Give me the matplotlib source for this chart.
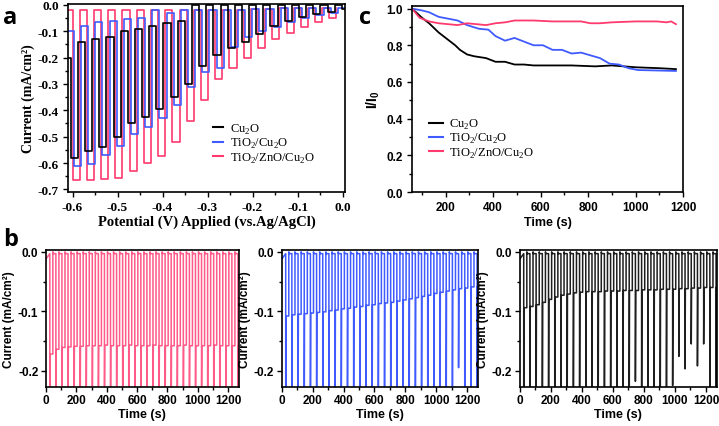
import matplotlib
matplotlib.use('Agg')
import matplotlib.pyplot as plt
import numpy as np
from matplotlib.ticker import MultipleLocator

plt.rcParams['mathtext.fontset'] = 'custom'
plt.rcParams['mathtext.rm'] = 'Liberation Serif'
plt.rcParams['mathtext.bf'] = 'Liberation Sans:bold'

# ---------------- panel a: chopped LSV (one value per light pulse) -------------
a_period = 0.0317          # chopping period in V
a_start = {'red': -0.600, 'blue': -0.597, 'black': -0.604}
cu2o_light = [-0.58, -0.555, -0.54, -0.50, -0.45, -0.425, -0.395, -0.35, -0.30, -0.23,
              -0.19, -0.165, -0.14, -0.11, -0.08, -0.06, -0.045, -0.035, -0.025, -0.015]
cu2o_dark = [-0.20, -0.14, -0.13, -0.12, -0.10, -0.09, -0.08, -0.07, -0.06, -0.0,
             -0.0, -0.0, -0.0, -0.0, -0.0, -0.0, -0.0, -0.0, -0.0, -0.0]
tio2_light = [-0.61, -0.605, -0.57, -0.535, -0.49, -0.465, -0.43, -0.38, -0.31, -0.255,
              -0.24, -0.16, -0.12, -0.10, -0.085, -0.065, -0.05, -0.04, -0.03, -0.02]
tio2_dark = [-0.10, -0.08, -0.065, -0.06, -0.055, -0.05, -0.02, -0.03, -0.02, -0.02,
             -0.02, -0.02, -0.02, -0.015, -0.015, -0.01, -0.01, -0.01, -0.01, -0.01]
zno_light = [-0.665, -0.665, -0.66, -0.655, -0.63, -0.60, -0.575, -0.52, -0.44, -0.36,
             -0.28, -0.24, -0.20, -0.165, -0.13, -0.105, -0.085, -0.065, -0.05]
zno_dark = [-0.02, -0.02, -0.02, -0.02, -0.02, -0.02, -0.02, -0.02, -0.02, -0.02,
            -0.02, -0.02, -0.02, -0.015, -0.015, -0.01, -0.01, -0.01, -0.01]

# ---------------- panel b: chopped chronoamperometry -------------------------
b_first_on = 25            # s
b_period = 40              # s (20 s on / 20 s off)
red_plateau = [-0.172, -0.164, -0.161, -0.160, -0.159, -0.159, -0.158, -0.158, -0.158, -0.157,
               -0.158, -0.158, -0.158, -0.157, -0.158, -0.158, -0.158, -0.157, -0.158, -0.158,
               -0.158, -0.158, -0.157, -0.158, -0.158, -0.158, -0.158, -0.157, -0.158, -0.158,
               -0.158, -0.158]
red_spike = [-0.3] * 32
blue_plateau = [-0.108, -0.106, -0.105, -0.104, -0.103, -0.102, -0.101, -0.099, -0.098, -0.096,
                -0.095, -0.093, -0.092, -0.090, -0.089, -0.087, -0.086, -0.085, -0.083, -0.081,
                -0.079, -0.077, -0.075, -0.073, -0.070, -0.068, -0.066, -0.064, -0.062, -0.061,
                -0.059, -0.058]
blue_spike = [-0.3] * 28 + [-0.195] + [-0.3] * 3
black_plateau = [-0.094, -0.092, -0.089, -0.085, -0.080, -0.076, -0.073, -0.071, -0.069, -0.068,
                 -0.067, -0.067, -0.067, -0.066, -0.066, -0.066, -0.065, -0.065, -0.065, -0.064,
                 -0.064, -0.064, -0.063, -0.063, -0.063, -0.062, -0.062, -0.061, -0.061, -0.060,
                 -0.060, -0.060]
black_spike = [-0.3] * 18 + [-0.218] + [-0.3] * 5 + [-0.225, -0.176, -0.197, -0.155, -0.192, -0.155, -0.3, -0.3]
b_dark = -0.003

# ---------------- panel c: stability ----------------------------------------
t_cu2o = [58, 100, 130, 170, 200, 240, 260, 290, 320, 370, 410, 450, 490, 530, 570, 650, 730, 830, 900, 1000, 1100, 1170]
r_cu2o = [1.0, 0.95, 0.92, 0.87, 0.84, 0.80, 0.775, 0.75, 0.74, 0.73, 0.71, 0.71, 0.695, 0.695, 0.69, 0.69, 0.69, 0.685, 0.69, 0.68, 0.675, 0.67]
t_tio2 = [58, 100, 130, 170, 210, 250, 290, 340, 380, 410, 450, 490, 530, 570, 610, 650, 690, 730, 770, 810, 850, 890, 930, 970, 1010, 1170]
r_tio2 = [1.0, 0.99, 0.98, 0.955, 0.945, 0.935, 0.91, 0.89, 0.885, 0.85, 0.825, 0.84, 0.82, 0.80, 0.80, 0.775, 0.775, 0.755, 0.76, 0.745, 0.73, 0.70, 0.695, 0.675, 0.665, 0.66]
t_zno = [58, 90, 130, 170, 210, 250, 290, 330, 370, 410, 450, 490, 570, 650, 770, 810, 850, 900, 1000, 1090, 1130, 1150, 1170]
r_zno = [1.0, 0.95, 0.93, 0.92, 0.915, 0.91, 0.92, 0.915, 0.91, 0.92, 0.925, 0.935, 0.935, 0.93, 0.93, 0.92, 0.92, 0.925, 0.93, 0.93, 0.925, 0.93, 0.915]

legend_labels = ['Cu$_2$O', 'TiO$_2$/Cu$_2$O', 'TiO$_2$/ZnO/Cu$_2$O']

RED = '#ff3a6e'
PINK = '#ff5a88'
BLUE = '#3f5bff'
SERIF = 'Liberation Serif'
SANS = 'Liberation Sans'


def chopped_lsv(start, light, dark):
    h = a_period / 2
    xs, ys = [], []
    for k in range(len(light)):
        p = start + k * a_period
        xs += [p - h, p, p, p + h, p + h]
        ys += [dark[k], dark[k], light[k], light[k], dark[min(k + 1, len(dark) - 1)]]
    return xs, ys


def chopped_ca(plateau, spike):
    xs, ys = [0, b_first_on], [-0.012, b_dark]
    for k in range(len(plateau)):
        ton = b_first_on + k * b_period
        toff = ton + b_period / 2
        xs += [ton, ton, ton + 2, toff, toff, toff + 3, ton + b_period]
        ys += [b_dark, spike[k], plateau[k], plateau[k], 0.0, b_dark, b_dark]
    return xs, ys


def style_ticks(ax, family, size, pad=3):
    ax.tick_params(which='both', direction='out', width=1.0, pad=pad)
    ax.tick_params(which='major', length=3.5, labelsize=size)
    ax.tick_params(which='minor', length=2)
    for t in ax.get_xticklabels() + ax.get_yticklabels():
        t.set_fontfamily(family)
        t.set_fontweight('bold')
    for s in ax.spines.values():
        s.set_linewidth(1.2)


fig = plt.figure(figsize=(7.19, 4.27), dpi=100)

# panel a
ax = fig.add_axes([0.0946, 0.548, 0.385, 0.440])
for start, li, da, c in [(a_start['red'], zno_light, zno_dark, RED),
                         (a_start['blue'], tio2_light, tio2_dark, BLUE),
                         (a_start['black'], cu2o_light, cu2o_dark, 'black')]:
    x, y = chopped_lsv(start, li, da)
    ax.plot(x, y, color=c, lw=1.2)
ax.set_xlim(-0.61, 0.005)
ax.set_ylim(-0.71, 0.003)
ax.xaxis.set_major_locator(MultipleLocator(0.1))
ax.xaxis.set_minor_locator(MultipleLocator(0.05))
ax.yaxis.set_major_locator(MultipleLocator(0.1))
ax.yaxis.set_minor_locator(MultipleLocator(0.05))
ax.xaxis.set_major_formatter(lambda v, p: f'{v:.1f}'.replace('-0.0', '0.0'))
ax.yaxis.set_major_formatter(lambda v, p: f'{v:.1f}'.replace('-0.0', '0.0'))
style_ticks(ax, SERIF, 9.5)
ax.set_xlabel('Potential (V) Applied (vs.Ag/AgCl)', fontfamily=SERIF, fontweight='bold', fontsize=10.5, labelpad=1)
ax.set_ylabel('Current (mA/cm²)', fontfamily=SERIF, fontweight='bold', fontsize=10, labelpad=2)
ha = [plt.Line2D([], [], color='black', lw=1.5), plt.Line2D([], [], color=BLUE, lw=1.5),
      plt.Line2D([], [], color=RED, lw=1.5)]
ax.legend(ha, legend_labels, loc='upper left',
          bbox_to_anchor=(0.505, 0.40), frameon=False, handlelength=0.8, handletextpad=0.6,
          labelspacing=0.02, borderaxespad=0, prop={'family': SERIF, 'size': 9})

# panel c
axc = fig.add_axes([0.573, 0.548, 0.377, 0.436])
axc.plot(t_cu2o, r_cu2o, color='black', lw=1.3)
axc.plot(t_tio2, r_tio2, color=BLUE, lw=1.3)
axc.plot(t_zno, r_zno, color=RED, lw=1.3)
axc.set_xlim(58, 1200)
axc.set_ylim(0, 1.015)
axc.xaxis.set_major_locator(MultipleLocator(200))
axc.xaxis.set_minor_locator(MultipleLocator(100))
axc.yaxis.set_major_locator(MultipleLocator(0.2))
axc.yaxis.set_minor_locator(MultipleLocator(0.1))
axc.yaxis.set_major_formatter(lambda v, p: f'{v:.1f}')
style_ticks(axc, SANS, 8.5)
axc.set_xlabel('Time (s)', fontfamily=SANS, fontweight='bold', fontsize=9, labelpad=2)
axc.set_ylabel(r'$\mathbf{I/I_0}$', fontsize=10, labelpad=3)
axc.legend(ha, legend_labels, loc='upper left',
           bbox_to_anchor=(0.045, 0.43), frameon=False, handlelength=1.1, handletextpad=0.5,
           labelspacing=0.02, borderaxespad=0, prop={'family': SERIF, 'size': 9})

# panel b
b_rects = [[0.064, 0.092, 0.268, 0.320], [0.392, 0.092, 0.2726, 0.320], [0.723, 0.092, 0.274, 0.320]]
b_series = [(red_plateau, red_spike, PINK), (blue_plateau, blue_spike, BLUE),
            (black_plateau, black_spike, '#1e1e1e')]
for rect, (pl, sp, c) in zip(b_rects, b_series):
    axb = fig.add_axes(rect)
    x, y = chopped_ca(pl, sp)
    axb.plot(x, y, color=c, lw=1.1)
    axb.set_xlim(0, 1270)
    axb.set_ylim(-0.227, 0.003)
    axb.xaxis.set_major_locator(MultipleLocator(200))
    axb.xaxis.set_minor_locator(MultipleLocator(100))
    axb.yaxis.set_major_locator(MultipleLocator(0.1))
    axb.yaxis.set_minor_locator(MultipleLocator(0.05))
    axb.yaxis.set_major_formatter(lambda v, p: f'{v:.1f}'.replace('-0.0', '0.0'))
    style_ticks(axb, SANS, 8.5, pad=2)
    axb.set_xlabel('Time (s)', fontfamily=SANS, fontweight='bold', fontsize=9, labelpad=1)
    axb.set_ylabel('Current (mA/cm²)', fontfamily=SANS, fontweight='bold', fontsize=8.5, labelpad=2)

fig.text(0.004, 0.958, 'a', fontsize=17, fontweight='bold', fontfamily='Open Sans', va='center')
fig.text(0.004, 0.437, 'b', fontsize=17, fontweight='bold', fontfamily='Open Sans', va='center')
fig.text(0.500, 0.958, 'c', fontsize=17, fontweight='bold', fontfamily='Open Sans', va='center')

fig.savefig('out.png', dpi=100)
